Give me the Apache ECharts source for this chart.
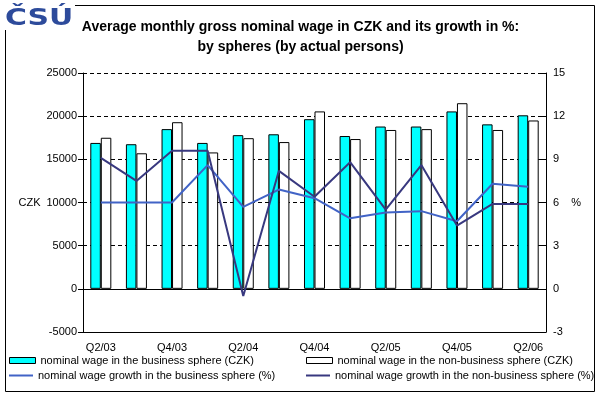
<!DOCTYPE html>
<html>
<head>
<meta charset="utf-8">
<script src="https://cdn.jsdelivr.net/npm/echarts@6/dist/echarts.min.js"></script>
<style>
  html, body { margin: 0; padding: 0; background: #fff; }
  #chart { width: 601px; height: 396px; }
</style>
</head>
<body>
<div id="chart"></div>
<script>
const categories = ["Q2/03", "Q3/03", "Q4/03", "Q1/04", "Q2/04", "Q3/04", "Q4/04",
  "Q1/05", "Q2/05", "Q3/05", "Q4/05", "Q1/06", "Q2/06"];
const wageBusiness = [16900, 16750, 18500, 16900, 17800, 17900, 19650, 17700, 18800, 18800, 20550, 19050, 20100];
const wageNonBusiness = [17500, 15700, 19300, 15800, 17450, 17000, 20550, 17350, 18400, 18500, 21500, 18400, 19500];
const growthBusiness = [6.0, 6.0, 6.0, 8.6, 5.7, 6.9, 6.3, 4.9, 5.3, 5.4, 4.7, 7.3, 7.1];
const growthNonBusiness = [9.1, 7.5, 9.6, 9.6, -0.5, 8.2, 6.4, 8.8, 5.5, 8.6, 4.4, 5.9, 5.9];

const FONT = '"Liberation Sans", Arial, sans-serif';
const names = [
  "nominal wage in the business sphere (CZK)",
  "nominal wage in the non-business sphere (CZK)",
  "nominal wage growth in the business sphere (%)",
  "nominal wage growth in the non-business sphere (%)"
];

const chart = echarts.init(document.getElementById("chart"));

function legendAt(name, left, top, isLine) {
  return {
    data: [name],
    left,
    top,
    padding: 0,
    icon: "rect",
    itemWidth: isLine ? 24 : 26,
    itemHeight: isLine ? 2 : 6,
    itemStyle: isLine ? { borderWidth: 0 } : { borderWidth: 1, borderColor: "#000" },
    selectedMode: false,
    textStyle: { fontFamily: FONT, fontSize: 11, color: "#000" }
  };
}

const axisText = { fontFamily: FONT, fontSize: 11, color: "#000" };

chart.setOption({
  animation: false,
  backgroundColor: "#fff",
  title: {
    text: "Average monthly gross nominal wage in CZK and its growth in %:\nby spheres (by actual persons)",
    left: "center",
    top: 17,
    padding: [0, 0, 0, 15],
    textStyle: { fontFamily: FONT, fontSize: 14, fontWeight: "bold", lineHeight: 20, color: "#000" }
  },
  legend: [
    legendAt(names[0], 9, 355, false),
    legendAt(names[1], 306, 355, false),
    legendAt(names[2], 9, 370, true),
    legendAt(names[3], 306, 370, true)
  ],
  grid: { left: 83, right: 55, top: 73, bottom: 64 },
  xAxis: [
    {
      type: "category",
      data: categories,
      axisLine: { onZero: true, lineStyle: { color: "#000", width: 1 } },
      axisTick: { length: 4, lineStyle: { color: "#000" } },
      axisLabel: { ...axisText, interval: 1, margin: 10 }
    },
    {
      type: "category",
      data: categories,
      position: "bottom",
      axisLine: { onZero: false, lineStyle: { color: "#000", width: 1 } },
      axisTick: { show: false },
      axisLabel: { show: false }
    }
  ],
  yAxis: [
    {
      type: "value",
      min: -5000,
      max: 25000,
      interval: 5000,
      name: "CZK",
      nameLocation: "middle",
      nameRotate: 0,
      nameGap: 41,
      nameTextStyle: axisText,
      axisLine: { show: true, lineStyle: { color: "#000" } },
      axisTick: { show: true, length: 5, lineStyle: { color: "#000" } },
      axisLabel: { ...axisText, margin: 6, formatter: v => String(v) },
      splitLine: { show: true, lineStyle: { color: "#000", type: [4, 3] } }
    },
    {
      type: "value",
      position: "right",
      min: -3,
      max: 15,
      interval: 3,
      name: "%",
      nameLocation: "middle",
      nameRotate: 0,
      nameGap: 21,
      nameTextStyle: axisText,
      axisLine: { show: true, lineStyle: { color: "#000" } },
      axisTick: { show: true, inside: true, length: 5, lineStyle: { color: "#000" } },
      axisLabel: { ...axisText, margin: 7 },
      splitLine: { show: false }
    },
    {
      type: "value",
      position: "left",
      min: -5000,
      max: 25000,
      interval: 5000,
      axisLine: { show: false },
      axisTick: { show: true, inside: true, length: 4, lineStyle: { color: "#000" } },
      axisLabel: { show: false },
      splitLine: { show: false }
    }
  ],
  series: [
    {
      name: names[0],
      type: "bar",
      data: wageBusiness,
      barGap: "0%",
      barCategoryGap: "41%",
      itemStyle: { color: "#00FFFF", borderColor: "#000", borderWidth: 1 }
    },
    {
      name: names[1],
      type: "bar",
      data: wageNonBusiness,
      itemStyle: { color: "#FFFFFF", borderColor: "#000", borderWidth: 1 }
    },
    {
      name: names[2],
      type: "line",
      yAxisIndex: 1,
      data: growthBusiness,
      symbol: "none",
      z: 5,
      itemStyle: { color: "#4163C6" },
      lineStyle: { color: "#4163C6", width: 2 }
    },
    {
      name: names[3],
      type: "line",
      yAxisIndex: 1,
      data: growthNonBusiness,
      symbol: "none",
      z: 6,
      itemStyle: { color: "#38387F" },
      lineStyle: { color: "#38387F", width: 2 }
    }
  ],
  graphic: [
    {
      type: "rect",
      shape: { x: 5.5, y: 5.5, width: 589, height: 386 },
      style: { fill: null, stroke: "#000", lineWidth: 1 },
      z: 0
    },
    {
      type: "rect",
      shape: { x: 3, y: 3, width: 72, height: 27 },
      style: { fill: "#fff" },
      z: 9
    },
    {
      type: "text",
      x: 5,
      y: 8,
      scaleX: 1.3,
      style: {
        text: "ČSÚ",
        font: '900 23px "DejaVu Sans", sans-serif',
        fill: "#2D4B9B",
        textVerticalAlign: "top"
      },
      z: 10
    }
  ]
});

window.addEventListener("resize", () => chart.resize());
</script>
</body>
</html>
